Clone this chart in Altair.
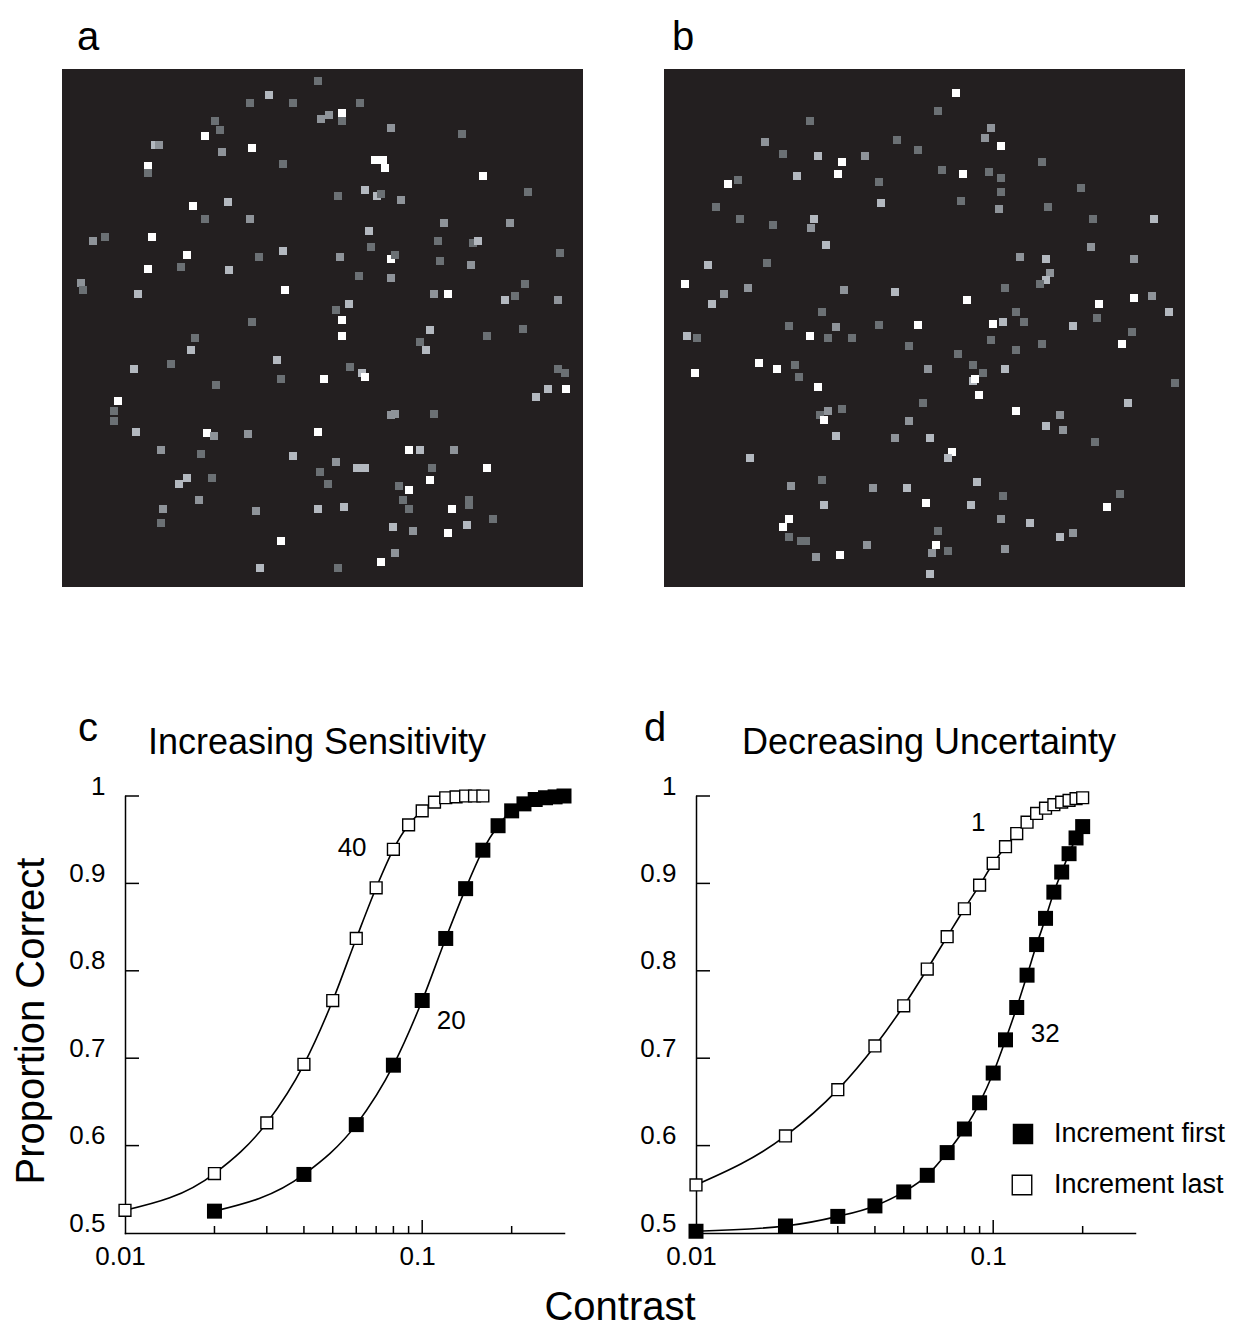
import altair as alt
import pandas as pd

FONT = "Liberation Sans"

# ---------------- panel a dots (panel-local pixel units, 521 x 518) ----------------
a_x = [256,207,188,231,259,153,158,143,93,97,190,160,221,86,86,131,166,143,188,31,43,90,125,221,197,86,119,167,19,21,76,223,190,
       298,267,280,280,329,400,313,321,323,421,303,276,315,319,339,466,382,448,307,309,376,411,416,498,278,329,333,378,409,297,329,463,372,386,443,453,496,287,274,280,
       133,129,72,109,215,219,262,154,56,52,52,74,145,152,186,256,99,139,231,258,125,117,150,137,101,99,194,256,219,198,
       280,368,425,461,358,364,288,300,303,496,503,486,504,474,329,333,372,347,358,392,274,295,303,370,425,266,368,337,347,341,347,407,407,390,282,431,405,331,351,386,333,319,276]
a_y = [12,26,34,34,50,52,61,67,76,76,79,83,95,97,104,137,133,150,150,172,168,168,186,182,188,200,198,201,214,221,225,221,253,
       34,46,44,52,59,65,91,91,99,107,121,127,127,125,131,123,154,154,162,178,172,174,172,184,188,190,186,192,196,207,209,215,225,225,231,227,231,235,241,251,
       269,281,300,295,291,310,310,316,332,342,352,363,364,367,365,363,381,385,387,403,409,415,409,431,440,454,442,440,472,499,
       267,261,267,260,273,281,298,304,308,300,304,320,320,328,346,345,345,381,381,381,393,399,399,399,399,415,411,417,421,431,440,431,436,440,438,450,456,458,462,464,484,493,499]
a_g = list("dlddmddwlmwmdwdwldmmdwwldwdlmdlwd"
           "dmwdmdwwwwldldmdmmldddldmwddmdmdmwldmldw"
           "dlldldwdwddlwmmwmdldlldmmdmlwl"
           "wldddldlwddlwlmmdwlmmlldwdwdwddddwldllmwmwd")

# ---------------- panel b dots ----------------
b_x = [146,101,233,254,119,154,178,201,133,174,215,64,74,52,217,76,109,150,147,162,44,103,21,60,84,48,180,231,158,125,172,215,254,
       292,274,327,321,337,378,278,299,325,337,337,417,297,335,384,429,490,427,356,382,470,386,382,376,341,303,435,470,488,505,352,360,329,339,409,433,
       23,33,146,164,188,245,95,113,131,135,31,154,156,164,160,178,259,245,172,231,86,158,127,209,243,160,125,119,125,137,142,152,176,203,
       468,327,352,378,458,294,264,309,319,341,309,311,315,511,352,464,396,382,399,431,266,288,284,313,339,456,443,262,307,337,366,274,396,409,272,268,284,341,266]
b_y = [52,73,71,81,85,87,93,87,107,105,113,115,111,138,134,150,156,150,159,176,196,194,215,225,219,235,221,223,243,257,258,256,256,
       24,42,59,69,77,93,101,105,103,109,123,119,132,140,138,150,150,178,188,190,190,204,211,215,219,231,235,229,227,243,243,253,255,253,257,249,
       267,269,267,269,269,277,294,300,296,308,304,318,346,342,351,340,334,352,367,369,389,411,417,419,419,436,450,458,468,472,472,488,486,476,
       263,271,281,275,275,285,300,296,304,300,312,310,326,314,342,334,346,357,361,373,369,383,389,413,427,425,438,434,436,450,454,462,468,464,476,484,482,480,505]
b_g = list("dmdddlwmlwdwddlddlmlldwmmlmlddmdw"
           "wdmmwddwdddddmddlmmlmmlddwwwmlddwlld"
           "ldwdddwwddwwdmwddmlmldmmllwwdddmwm"
           "ddddwdmddllwwdwlmlmdlwllddwwlmldlmwmdml")

GRAY_DOMAIN = ["w", "l", "m", "d"]
GRAY_RANGE = ["#ffffff", "#b3b8bf", "#8e9399", "#6b7074"]

# ---------------- curves ----------------
c_open_x = [0.01, 0.02, 0.03, 0.04, 0.05, 0.06, 0.07, 0.08, 0.09, 0.10, 0.11, 0.12, 0.13, 0.14, 0.15, 0.16]
c_open_y = [0.526, 0.568, 0.626, 0.693, 0.766, 0.837, 0.895, 0.939, 0.967, 0.983, 0.993, 0.998, 0.999, 1.0, 1.0, 1.0]
c_fill_x = [0.02, 0.04, 0.06, 0.08, 0.10, 0.12, 0.14, 0.16, 0.18, 0.20, 0.22, 0.24, 0.26, 0.28, 0.30]
c_fill_y = [0.525, 0.567, 0.624, 0.692, 0.766, 0.837, 0.894, 0.938, 0.966, 0.983, 0.991, 0.996, 0.998, 0.999, 1.0]

d_x = [0.01, 0.02, 0.03, 0.04, 0.05, 0.06, 0.07, 0.08, 0.09, 0.10,
       0.11, 0.12, 0.13, 0.14, 0.15, 0.16, 0.17, 0.18, 0.19, 0.20]
d_open_y = [0.555, 0.611, 0.664, 0.714, 0.760, 0.802, 0.839, 0.871, 0.898, 0.923,
            0.942, 0.957, 0.970, 0.980, 0.986, 0.990, 0.993, 0.995, 0.997, 0.998]
d_fill_y = [0.502, 0.508, 0.519, 0.531, 0.547, 0.566, 0.592, 0.619, 0.649, 0.683,
            0.721, 0.758, 0.795, 0.830, 0.860, 0.890, 0.913, 0.934, 0.952, 0.965]

x_minor_ticks = [0.02, 0.03, 0.04, 0.05, 0.06, 0.07, 0.08, 0.09, 0.2]
x_major_ticks = [0.1]
y_ticks = [0.6, 0.7, 0.8, 0.9, 1.0]
x_label_values = [0.01, 0.1]
y_label_values = [0.5, 0.6, 0.7, 0.8, 0.9, 1.0]

PW, PH = 521, 518     # dot panels
CW, CH = 439, 437     # curve panels


def dot_panel(xs, ys, gs, letter, letter_x):
    df = pd.DataFrame({"x": xs, "y": ys, "g": gs})
    dots = alt.Chart(df).mark_point(shape="square", filled=True, size=64, opacity=1, strokeWidth=0).encode(
        x=alt.X("x:Q", scale=alt.Scale(domain=[0, PW]), axis=None),
        y=alt.Y("y:Q", scale=alt.Scale(domain=[0, PH], reverse=True), axis=None),
        color=alt.Color("g:N", scale=alt.Scale(domain=GRAY_DOMAIN, range=GRAY_RANGE), legend=None),
    )
    lab = alt.Chart(pd.DataFrame({"t": [letter]})).mark_text(
        font=FONT, fontSize=40, color="black", baseline="alphabetic", align="center"
    ).encode(text="t:N", x=alt.value(letter_x), y=alt.value(-19))
    return alt.layer(dots, lab).properties(
        width=PW, height=PH, view=alt.ViewBackground(fill="#231f20", stroke=None)
    )


XSCALE = alt.Scale(type="log", domain=[0.01, 0.3])
YSCALE = alt.Scale(domain=[0.5, 1.0])
XAXIS = alt.Axis(values=x_label_values, format="~g", ticks=False, grid=False, domain=True,
                 domainColor="black", domainWidth=1.5, domainCap="square",
                 labelFont=FONT, labelFontSize=26, labelColor="black", labelPadding=10,
                 labelOffset=-5, labelFlush=False, labelOverlap=False, title=None)
YAXIS = alt.Axis(values=y_label_values, format="~g", ticks=False, grid=False, domain=True,
                 domainColor="black", domainWidth=1.5, domainCap="square",
                 labelFont=FONT, labelFontSize=26, labelColor="black", labelPadding=20,
                 labelOffset=-10, labelFlush=False, labelOverlap=False, title=None)


def X():
    return alt.X("x:Q", scale=XSCALE, axis=XAXIS)


def Y():
    return alt.Y("y:Q", scale=YSCALE, axis=YAXIS)


def text_px(t, x, y, size, **kw):
    return alt.Chart(pd.DataFrame({"t": [t]})).mark_text(
        font=FONT, fontSize=size, color="black", **kw
    ).encode(text="t:N", x=alt.value(x), y=alt.value(y))


def curve_panel(ox, oy, fx, fy, notes, letter, letter_x, title, title_x, extra=None):
    open_df = pd.DataFrame({"x": ox, "y": oy, "s": "open"})
    fill_df = pd.DataFrame({"x": fx, "y": fy, "s": "fill"})
    both = pd.concat([open_df, fill_df], ignore_index=True)
    lines = alt.Chart(both).mark_line(color="black", strokeWidth=1.6, interpolate="monotone").encode(
        x=X(), y=Y(), detail="s:N")
    opens = alt.Chart(open_df).mark_point(shape="square", filled=True, fill="white", stroke="black",
                                          strokeWidth=1.4, size=140, opacity=1).encode(x=X(), y=Y())
    fills = alt.Chart(fill_df).mark_point(shape="square", filled=True, color="black",
                                          size=225, opacity=1).encode(x=X(), y=Y())
    xmin = alt.Chart(pd.DataFrame({"x": x_minor_ticks})).mark_rule(color="black", strokeWidth=1.5).encode(
        x=X(), y=alt.value(CH), y2=alt.value(CH - 7))
    xmaj = alt.Chart(pd.DataFrame({"x": x_major_ticks})).mark_rule(color="black", strokeWidth=1.5).encode(
        x=X(), y=alt.value(CH), y2=alt.value(CH - 13))
    yt = alt.Chart(pd.DataFrame({"y": y_ticks})).mark_rule(color="black", strokeWidth=1.5).encode(
        y=Y(), x=alt.value(0), x2=alt.value(14))
    nt = alt.Chart(pd.DataFrame(notes)).mark_text(font=FONT, fontSize=26, color="black").encode(
        x=X(), y=Y(), text="t:N")
    layers = [lines, opens, fills, xmin, xmaj, yt, nt,
              text_px(letter, letter_x, -55, 40, baseline="alphabetic", align="center"),
              text_px(title, title_x, -42, 36, baseline="alphabetic", align="center")]
    if extra:
        layers += extra
    return alt.layer(*layers).properties(width=CW, height=CH, view=alt.ViewBackground(stroke=None))


c_notes = {"t": ["40", "20"], "x": [0.0581, 0.1252], "y": [0.9405, 0.7426]}
d_notes = {"t": ["1", "32"], "x": [0.0890, 0.1496], "y": [0.969, 0.7277]}

legend_first = alt.Chart(pd.DataFrame({"k": ["Increment first"]})).mark_point(
    shape="square", filled=True, color="black", size=420, opacity=1).encode(x=alt.value(327), y=alt.value(338))
legend_last = alt.Chart(pd.DataFrame({"k": ["Increment last"]})).mark_point(
    shape="square", filled=True, fill="white", stroke="black", strokeWidth=1.4, size=380, opacity=1
).encode(x=alt.value(326), y=alt.value(389))

c_extra = [
    text_px("Proportion Correct", -93, 225, 40, angle=270, baseline="middle", align="center"),
    text_px("Contrast", 495, 524, 40, baseline="alphabetic", align="center"),
]
d_extra = [
    legend_first, legend_last,
    text_px("Increment first", 358, 338, 27, baseline="middle", align="left"),
    text_px("Increment last", 358, 389, 27, baseline="middle", align="left"),
]

panel_a = dot_panel(a_x, a_y, a_g, "a", 26)
panel_b = dot_panel(b_x, b_y, b_g, "b", 19)
panel_c = curve_panel(c_open_x, c_open_y, c_fill_x, c_fill_y, c_notes, "c", -37,
                      "Increasing Sensitivity", 192, c_extra)
panel_d = curve_panel(d_x, d_open_y, d_x, d_fill_y, d_notes, "d", -41,
                      "Decreasing Uncertainty", 233, d_extra)

spacer = alt.Chart(pd.DataFrame({"x": [0]})).mark_point(opacity=0).encode(
    x=alt.X("x:Q", axis=None), y=alt.Y("x:Q", axis=None)
).properties(width=63, height=1, view=alt.ViewBackground(stroke=None))

top = alt.hconcat(panel_a, panel_b, spacing=81, bounds="flush")
bottom = alt.hconcat(spacer, alt.hconcat(panel_c, panel_d, spacing=132, bounds="flush"),
                     spacing=0, bounds="flush")

# with flush bounds the nested top row counts as zero height, so the spacing
# includes the dot-panel height (518) plus the gap between rows (209)
chart = alt.vconcat(top, bottom, spacing=727, bounds="flush").properties(
    padding={"left": 4, "top": 10, "right": 0, "bottom": 0}
).configure_view(stroke=None).configure(background="white")

chart.save("out.html", embed_options={"renderer": "svg", "actions": False})
